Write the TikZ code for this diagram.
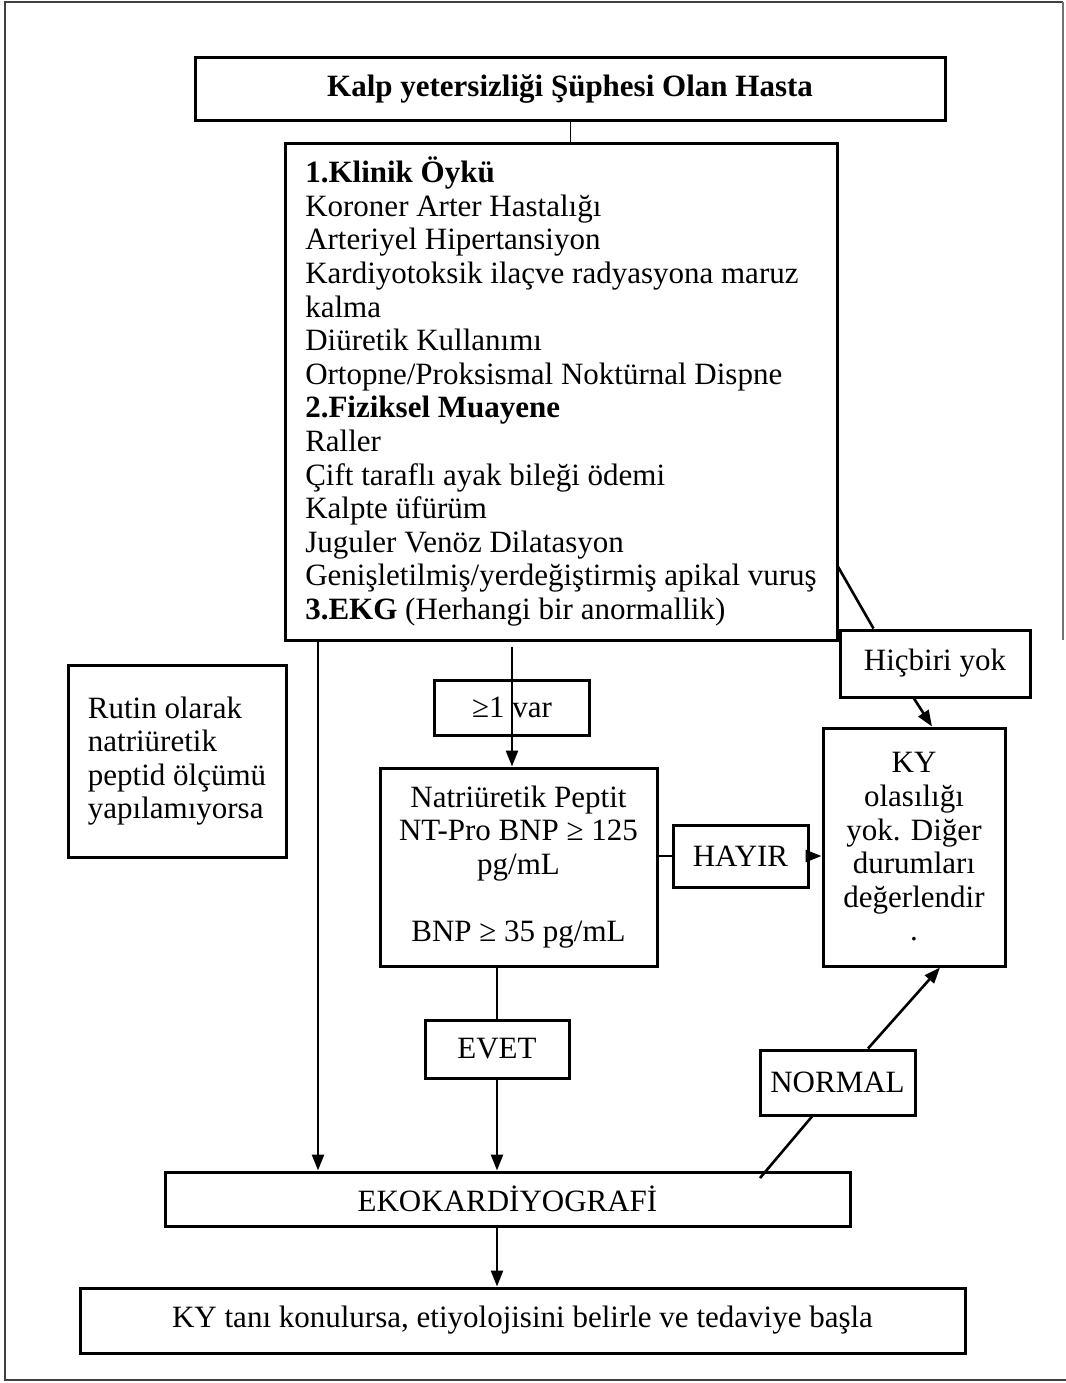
\documentclass[tikz,border=0pt]{standalone}
\usepackage{fontspec}
\setmainfont{Liberation Serif}
\usetikzlibrary{arrows.meta}

\begin{document}
\begin{tikzpicture}[x=0.5pt,y=-0.5pt,
 box/.style={draw,line width=1.5pt,fill=white,inner sep=0pt,align=center},
 line/.style={line width=1.3pt},
 arr/.style={line width=1.3pt,-{Triangle[length=8pt,width=6pt]}},
 every node/.append style={font=\fontsize{15.5}{16.8}\selectfont}]
\useasboundingbox (0,0) rectangle (1066,1383);
% frame
\draw[line width=0.8pt,black!75] (1063,2) -- (5,2) -- (5,1380) -- (1066,1380);
\draw[line width=0.8pt,black!55] (1063,2) -- (1063,640);

\node[box,minimum width=375pt,minimum height=31.5pt] (hasta) at (570,88.5)
 {\textbf{Kalp yetersizliği Şüphesi Olan Hasta}};
\node[box,minimum width=276pt,minimum height=248.5pt,align=left] (oyku) at (561,391.5)
 {\textbf{1.Klinik Öykü}\\
  Koroner Arter Hastalığı\\
  Arteriyel Hipertansiyon\\
  Kardiyotoksik ilaçve radyasyona maruz\\
  kalma\\
  Diüretik Kullanımı\\
  Ortopne/Proksismal Noktürnal Dispne\\
  \textbf{2.Fiziksel Muayene}\\
  Raller\\
  Çift taraflı ayak bileği ödemi\\
  Kalpte üfürüm\\
  Juguler Venöz Dilatasyon\\
  Genişletilmiş/yerdeğiştirmiş apikal vuruş\\
  \textbf{3.EKG} (Herhangi bir anormallik)};
\node[box,minimum width=95pt,minimum height=33.5pt] (hicbiri) at (935,663.5) {Hiçbiri yok};
\node[box,minimum width=77.5pt,minimum height=27.5pt] (var) at (512,707.5) {≥1 var};
\node[box,minimum width=109pt,minimum height=96pt,align=left] (rutin) at (177,761)
 {Rutin olarak\\ natriüretik\\ peptid ölçümü\\ yapılamıyorsa};
\node[box,minimum width=91pt,minimum height=119pt] (ky) at (914,847)
 {KY\\ olasılığı\\ yok. Diğer\\ durumları\\ değerlendir\\ .};
\node[box,minimum width=138.5pt,minimum height=99pt] (peptit) at (518.5,867)
 {Natriüretik Peptit\\ NT-Pro BNP ≥ 125\\ pg/mL\\[16.8pt] BNP ≥ 35 pg/mL};
\node[box,minimum width=67.5pt,minimum height=31pt] (hayir) at (740.5,856) {HAYIR};
\node[box,minimum width=72pt,minimum height=29pt] (evet) at (497,1049) {EVET};
\node[box,minimum width=77.5pt,minimum height=32.5pt] (normal) at (837.5,1082.5) {NORMAL};
\node[box,minimum width=342.5pt,minimum height=27pt] (eko) at (507.5,1199) {EKOKARDİYOGRAFİ};
\node[box,minimum width=442.5pt,minimum height=32.5pt] (tani) at (522.5,1320.5)
 {KY tanı konulursa, etiyolojisini belirle ve tedaviye başla};

\coordinate (sol) at (318,640);
\coordinate (sag) at (837,565);
\coordinate (nor) at (760,1178);

\draw[line width=0.5pt] (hasta.south) -- (hasta.south |- oyku.north);
\draw[arr] (sol) -- (sol |- eko.north);
\draw[arr,shorten <=2.5pt] (oyku.south -| var) -- (var |- peptit.north);
\draw[line] (sag) -- ([xshift=17.5pt]hicbiri.north west);
\draw[arr] ([xshift=-10.5pt]hicbiri.south) -- ([xshift=9pt]ky.north);
\draw[line] (peptit.east |- hayir) -- (hayir.west);
\draw[arr] (hayir.east) -- (hayir -| ky.west);
\draw[line] (peptit.south -| evet) -- (evet.north);
\draw[arr] (evet.south) -- (evet |- eko.north);
\draw[line] (nor) -- ([xshift=-12.75pt]normal.south);
\draw[arr] ([xshift=15.25pt]normal.north) -- ([xshift=13pt]ky.south);
\draw[arr] (eko.south -| evet) -- (evet |- tani.north);
\end{tikzpicture}
\end{document}
